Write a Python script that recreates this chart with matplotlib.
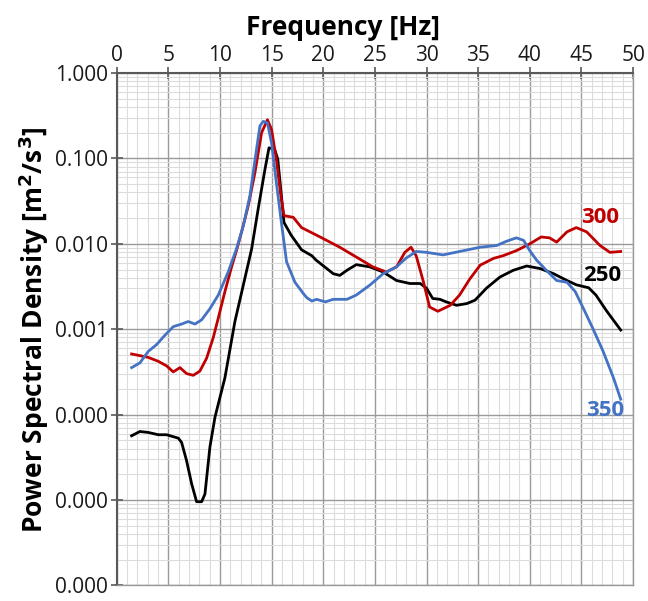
import matplotlib.pyplot as plt
from matplotlib.ticker import MultipleLocator, LogLocator, FuncFormatter, NullFormatter

plt.rcParams['font.family'] = ['Open Sans', 'DejaVu Sans']

# PSD, frequency in Hz and log10 of PSD
f_250 = [1.45, 2.25, 3.06, 4.03, 4.84, 5.97, 6.29, 6.77, 7.26, 7.74, 8.23, 8.55, 9.03, 9.52,
         10.48, 11.45, 12.26, 13.07, 13.7, 14.36, 14.75, 15.3, 15.6, 15.95, 16.2, 16.9, 17.9,
         18.9, 19.3, 20.97, 21.6, 22.3, 23.2, 24.5, 25.8, 27.1, 28.4, 29.4, 30.0, 30.6, 31.3,
         31.9, 32.9, 33.9, 34.7, 35.8, 37.1, 38.4, 39.7, 41.0, 42.3, 43.6, 44.5, 45.7, 46.4,
         47.4, 48.8]
l_250 = [-4.248, -4.198, -4.209, -4.236, -4.236, -4.276, -4.326, -4.54, -4.81, -5.02, -5.02,
         -4.93, -4.38, -4.03, -3.57, -2.91, -2.485, -2.06, -1.593, -1.128, -0.876, -0.895,
         -1.01, -1.438, -1.75, -1.90, -2.07, -2.14, -2.19, -2.35, -2.37, -2.31, -2.244, -2.27,
         -2.33, -2.43, -2.465, -2.465, -2.52, -2.64, -2.65, -2.68, -2.72, -2.70, -2.66, -2.52,
         -2.39, -2.31, -2.26, -2.29, -2.35, -2.43, -2.48, -2.515, -2.60, -2.78, -3.01]

f_300 = [1.45, 3.06, 4.03, 4.84, 5.48, 6.13, 6.77, 7.42, 8.06, 8.71, 9.35, 9.84, 10.48, 11.13,
         11.6, 12.1, 12.74, 13.39, 14.03, 14.6, 15.0, 15.46, 15.9, 16.2, 17.1, 17.9, 19.7, 21.6,
         23.2, 24.8, 26.1, 27.1, 27.9, 28.5, 29.0, 29.7, 30.3, 31.1, 32.3, 33.2, 34.2, 35.2,
         36.5, 37.4, 38.7, 40.0, 41.1, 41.9, 42.6, 43.6, 44.5, 45.5, 46.8, 47.75, 48.8]
l_300 = [-3.29, -3.33, -3.376, -3.43, -3.50, -3.45, -3.52, -3.54, -3.49, -3.34, -3.10, -2.87,
         -2.56, -2.27, -2.08, -1.86, -1.555, -1.166, -0.70, -0.547, -0.663, -1.01, -1.44, -1.67,
         -1.69, -1.81, -1.92, -2.04, -2.155, -2.27, -2.33, -2.27, -2.10, -2.04, -2.14, -2.445,
         -2.74, -2.79, -2.72, -2.60, -2.41, -2.25, -2.17, -2.14, -2.08, -2.00, -1.92, -1.93,
         -1.98, -1.86, -1.81, -1.86, -2.02, -2.10, -2.09]

f_350 = [1.45, 2.25, 3.06, 3.87, 4.68, 5.48, 6.29, 6.93, 7.58, 8.23, 9.03, 9.84, 10.8, 11.6,
         12.26, 12.9, 13.5, 13.87, 14.2, 14.6, 15.0, 15.46, 15.95, 16.45, 17.26, 18.06, 18.4,
         18.9, 19.36, 20.2, 20.97, 22.3, 23.2, 24.5, 25.8, 27.1, 28.0, 29.0, 30.0, 31.6, 33.2,
         35.2, 36.8, 37.75, 38.7, 39.4, 40.0, 40.65, 41.6, 42.6, 43.6, 44.4, 45.2, 46.1, 47.1,
         48.1, 48.8]
l_350 = [-3.45, -3.395, -3.26, -3.18, -3.07, -2.97, -2.94, -2.91, -2.94, -2.89, -2.76, -2.60,
         -2.33, -2.06, -1.79, -1.44, -0.93, -0.62, -0.566, -0.585, -0.82, -1.28, -1.75, -2.21,
         -2.45, -2.58, -2.63, -2.67, -2.65, -2.68, -2.65, -2.65, -2.60, -2.485, -2.35, -2.27,
         -2.17, -2.09, -2.10, -2.13, -2.09, -2.04, -2.02, -1.97, -1.93, -1.96, -2.08, -2.19,
         -2.31, -2.43, -2.45, -2.56, -2.76, -2.99, -3.26, -3.57, -3.82]

y_ticks = [1e-6, 1e-5, 1e-4, 1e-3, 1e-2, 1e-1, 1.0]

fig = plt.figure(figsize=(6.48, 6.01), dpi=100)
ax = fig.add_axes([0.180, 0.026, 0.797, 0.8525])

ax.plot(f_250, [10**v for v in l_250], c='black', lw=2, zorder=3)
ax.plot(f_300, [10**v for v in l_300], c='#C00000', lw=2, zorder=3)
ax.plot(f_350, [10**v for v in l_350], c='#4472C4', lw=2, zorder=3)

ax.set_yscale('log')
ax.set_xlim(0, 50)
ax.set_ylim(1e-6, 1)

ax.xaxis.set_major_locator(MultipleLocator(5))
ax.xaxis.set_minor_locator(MultipleLocator(1))
ax.set_yticks(y_ticks)
ax.yaxis.set_minor_locator(LogLocator(base=10, subs=range(2, 10), numticks=100))
ax.yaxis.set_major_formatter(FuncFormatter(lambda v, p: '%.3f' % v))
ax.yaxis.set_minor_formatter(NullFormatter())

ax.xaxis.tick_top()
ax.xaxis.set_label_position('top')
ax.grid(which='major', color='#9a9a9a', lw=1.0)
ax.grid(which='minor', color='#dcdcdc', lw=0.8)
ax.set_axisbelow(True)

ax.tick_params(which='major', direction='inout', length=8, width=1.2, color='#595959',
               labelsize=15, labelcolor='#1a1a1a', pad=2)
ax.tick_params(which='minor', length=0)
ax.tick_params(axis='x', which='major', top=True, bottom=False, pad=1)

for s in ['left', 'top']:
    ax.spines[s].set_color('#595959')
    ax.spines[s].set_linewidth(1.5)
for s in ['right', 'bottom']:
    ax.spines[s].set_color('#9a9a9a')
    ax.spines[s].set_linewidth(1.0)

ax.set_xlabel('Frequency [Hz]', fontsize=19, fontweight='bold')
ax.xaxis.set_label_coords(0.438, 1.074)
ax.set_ylabel('Power Spectral Density [m$^\\mathbf{2}$/s$^\\mathbf{3}$]', fontsize=19,
              fontweight='bold', labelpad=3)

ax.text(45.0, 10**-1.69, '300', color='#C00000', fontsize=16, fontweight='bold', va='center')
ax.text(45.2, 10**-2.37, '250', color='black', fontsize=16, fontweight='bold', va='center')
ax.text(45.5, 10**-3.95, '350', color='#4472C4', fontsize=16, fontweight='bold', va='center')

fig.savefig('out.png', dpi=100)
